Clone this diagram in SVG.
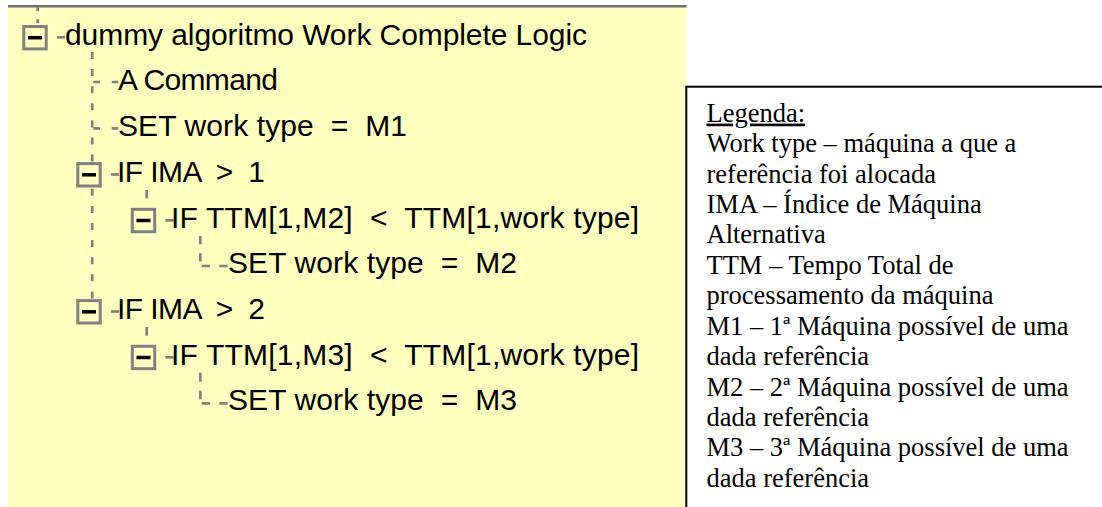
<svg xmlns="http://www.w3.org/2000/svg" xmlns:xlink="http://www.w3.org/1999/xlink" width="1102" height="507" viewBox="0 0 1102 507">
  <style>
    .panel { fill: #FFFFC0; }
    .rule { stroke: #707070; stroke-width: 2.5; }
    .box { fill: #FFFFC0; stroke: #808080; stroke-width: 3; }
    .minus { fill: #000000; }
    .stub { stroke: #808080; stroke-width: 2.7; }
    .dash { stroke: #808080; stroke-width: 2.7; fill: none; }
    .label { font-family: "Liberation Sans", Arial, sans-serif; font-size: 30px; fill: #000000; white-space: pre; }
    .legend-frame { fill: #FFFFFF; stroke: #000000; stroke-width: 2; }
    .legend { font-family: "Liberation Serif", "Times New Roman", serif; font-size: 26.5px; fill: #000000; }
    .title { text-decoration: underline; }
  </style>
  <defs>
    <!-- collapse toggle: square with a minus sign, centred on its origin -->
    <g id="toggle">
      <rect class="box" x="-11.2" y="-11.2" width="22.4" height="22.4"/>
      <rect class="minus" x="-7" y="-1.75" width="14" height="3.5"/>
    </g>
  </defs>

  <!-- page background -->
  <rect x="0" y="0" width="1102" height="507" fill="#FFFFFF"/>

  <!-- tree panel -->
  <rect class="panel" x="8" y="6" width="678.5" height="501"/>
  <line class="rule" x1="8" y1="6.2" x2="686.5" y2="6.2"/>

  <!-- tree connectors -->
  <g id="connectors">
    <!-- link from the panel top into the root toggle -->
    <path class="dash" d="M37.7 7.3 V25" stroke-dasharray="3.7 8.3"/>
    <!-- root children spine -->
    <path class="dash" d="M92.2 52 V299" stroke-dasharray="7 10.1"/>
    <!-- leaf ticks under the root -->
    <path class="dash" d="M93.3 82 H118.3" stroke-dasharray="6.7 11.7"/>
    <path class="dash" d="M93.3 128.3 H118.3" stroke-dasharray="6.7 11.7"/>
    <!-- IF IMA > 1 to its condition -->
    <path class="dash" d="M146.7 190 V208" stroke-dasharray="8.3 12"/>
    <!-- IF IMA > 2 to its condition -->
    <path class="dash" d="M146.7 327 V345" stroke-dasharray="8.7 12"/>
    <!-- leaf under the M2 condition -->
    <path class="dash" d="M200.3 236 V262" stroke-dasharray="8.3 9"/>
    <path class="dash" d="M201.7 266 H228" stroke-dasharray="8.3 9.3"/>
    <!-- leaf under the M3 condition -->
    <path class="dash" d="M200.3 372.7 V399.3" stroke-dasharray="9 9"/>
    <path class="dash" d="M201.7 403.3 H228" stroke-dasharray="8.3 9.3"/>
  </g>

  <!-- tree nodes -->
  <g id="node-root">
    <use xlink:href="#toggle" href="#toggle" x="35" y="37.7"/>
    <line class="stub" x1="57" y1="37.3" x2="65" y2="37.3"/>
    <text class="label" x="65" y="45" textLength="522">dummy algoritmo Work Complete Logic</text>
  </g>

  <g id="node-command">
    <text class="label" x="118" y="89.5" textLength="160">A Command</text>
  </g>

  <g id="node-set-m1">
    <text class="label" x="118" y="135.5" textLength="289" xml:space="preserve">SET work type  =  M1</text>
  </g>

  <g id="node-if-ima-1">
    <use xlink:href="#toggle" href="#toggle" x="89" y="174.8"/>
    <line class="stub" x1="111" y1="174.5" x2="119" y2="174.5"/>
    <text class="label" x="117" y="181.8" textLength="148" xml:space="preserve">IF IMA  &gt;  1</text>
  </g>

  <g id="node-if-ttm-m2">
    <use xlink:href="#toggle" href="#toggle" x="143.5" y="220.5"/>
    <line class="stub" x1="165.5" y1="220.3" x2="173.5" y2="220.3"/>
    <text class="label" x="171" y="227.5" textLength="468" xml:space="preserve">IF TTM[1,M2]  &lt;  TTM[1,work type]</text>
  </g>

  <g id="node-set-m2">
    <text class="label" x="228" y="273" textLength="289" xml:space="preserve">SET work type  =  M2</text>
  </g>

  <g id="node-if-ima-2">
    <use xlink:href="#toggle" href="#toggle" x="89" y="311.8"/>
    <line class="stub" x1="111" y1="311.5" x2="119" y2="311.5"/>
    <text class="label" x="117" y="318.8" textLength="148" xml:space="preserve">IF IMA  &gt;  2</text>
  </g>

  <g id="node-if-ttm-m3">
    <use xlink:href="#toggle" href="#toggle" x="143.5" y="357.5"/>
    <line class="stub" x1="165.5" y1="357.3" x2="173.5" y2="357.3"/>
    <text class="label" x="171" y="364.5" textLength="468" xml:space="preserve">IF TTM[1,M3]  &lt;  TTM[1,work type]</text>
  </g>

  <g id="node-set-m3">
    <text class="label" x="228" y="410.3" textLength="289" xml:space="preserve">SET work type  =  M3</text>
  </g>

  <!-- legend -->
  <g id="legend">
    <rect class="legend-frame" x="686.3" y="86.7" width="430" height="440"/>
    <text class="legend" x="706.5">
      <tspan class="title" x="706.5" y="121.6">Legenda:</tspan>
      <tspan x="706.5" y="152">Work type – máquina a que a</tspan>
      <tspan x="706.5" y="182.5">referência foi alocada</tspan>
      <tspan x="706.5" y="212.9">IMA – Índice de Máquina</tspan>
      <tspan x="706.5" y="243.3">Alternativa</tspan>
      <tspan x="706.5" y="273.8">TTM – Tempo Total de</tspan>
      <tspan x="706.5" y="304.2">processamento da máquina</tspan>
      <tspan x="706.5" y="334.6">M1 – 1ª Máquina possível de uma</tspan>
      <tspan x="706.5" y="365">dada referência</tspan>
      <tspan x="706.5" y="395.5">M2 – 2ª Máquina possível de uma</tspan>
      <tspan x="706.5" y="425.9">dada referência</tspan>
      <tspan x="706.5" y="456.3">M3 – 3ª Máquina possível de uma</tspan>
      <tspan x="706.5" y="486.7">dada referência</tspan>
    </text>
  </g>
</svg>
